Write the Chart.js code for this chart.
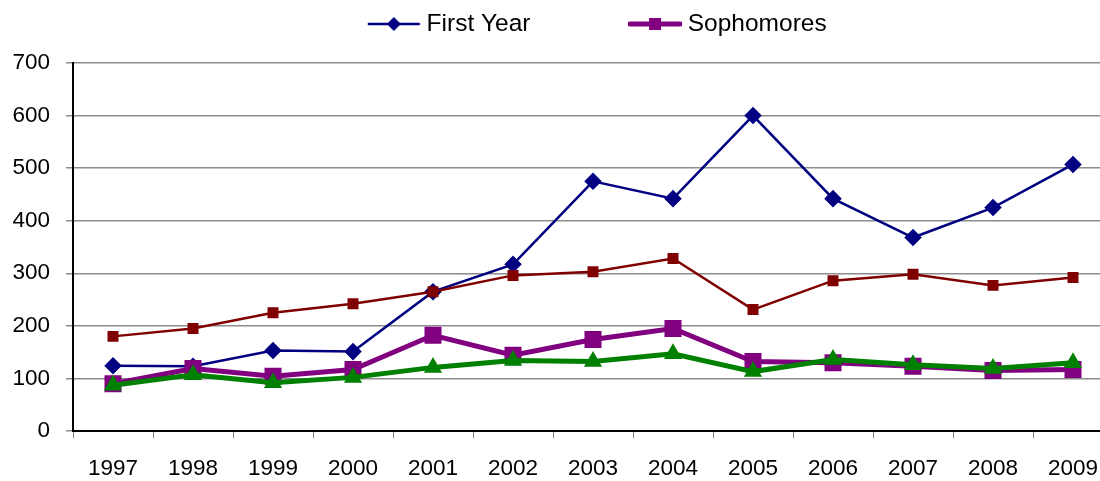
<!DOCTYPE html>
<html>
<head>
<meta charset="utf-8">
<script src="https://cdn.jsdelivr.net/npm/chart.js@4"></script>
<style>
  html, body { margin: 0; padding: 0; background: #fff; overflow: hidden; }
  #wrap { width: 1113px; height: 481px; position: relative; }
</style>
</head>
<body>
<div id="wrap"><canvas id="c" width="1113" height="481"></canvas></div>
<script>
const years = ['1997','1998','1999','2000','2001','2002','2003','2004','2005','2006','2007','2008','2009'];
const firstYear  = [124, 123, 153, 151, 265, 317, 475, 442, 600, 442, 368, 425, 507];
const sophomores = [90, 119, 104, 117, 182, 144, 174, 195, 132, 130, 123, 115, 117];
const seriesRed  = [180, 195, 225, 242, 265, 296, 303, 328, 231, 286, 298, 277, 292];
const seriesGreen= [87, 107, 92, 102, 121, 134, 132, 147, 113, 136, 126, 119, 130];
const yTicks = [0, 100, 200, 300, 400, 500, 600, 700];

const FONT = '"Liberation Sans", Arial, sans-serif';

function legendIcon(color, lw, style, r) {
  const c = document.createElement('canvas');
  c.width = 54; c.height = 20;
  const g = c.getContext('2d');
  g.strokeStyle = color; g.lineWidth = lw; g.lineCap = 'round';
  g.beginPath(); g.moveTo(2, 10); g.lineTo(52, 10); g.stroke();
  g.fillStyle = color;
  g.beginPath();
  if (style === 'diamond') {
    g.moveTo(27 - r, 10); g.lineTo(27, 10 - r); g.lineTo(27 + r, 10); g.lineTo(27, 10 + r); g.closePath();
  } else {
    g.rect(27 - r, 10 - r, 2 * r, 2 * r);
  }
  g.fill();
  return c;
}
const iconFirst = legendIcon('#000080', 2.5, 'diamond', 7);
const iconSoph = legendIcon('#800080', 5, 'square', 6);

const LEG_PAD = 104;
const LEG_FONT = 24.5;
const LEG_CENTER_Y = 24;
const LEG_SHIFT_X = 7;

const moveLegend = {
  id: 'moveLegend',
  afterLayout(chart) {
    const lg = chart.legend;
    if (!lg) return;
    lg.top = LEG_CENTER_Y - LEG_FONT / 2 - LEG_PAD;
    lg.bottom = chart.chartArea.top - 4;
    lg.left += LEG_SHIFT_X;
    lg.right += LEG_SHIFT_X;
  }
};

new Chart(document.getElementById('c'), {
  type: 'line',
  data: {
    labels: years,
    datasets: [
      { label: 'First Year', data: firstYear, borderColor: '#000080', backgroundColor: '#000080',
        borderWidth: 2.5, pointStyle: 'rectRot', pointRadius: 7, pointHoverRadius: 7, order: 4 },
      { label: 'Sophomores', data: sophomores, borderColor: '#800080', backgroundColor: '#800080',
        borderWidth: 5, pointStyle: 'rect', pointRadius: 8.5, pointHoverRadius: 8.5, order: 2 },
      { label: 'Juniors', data: seriesRed, borderColor: '#800000', backgroundColor: '#800000',
        borderWidth: 2.5, pointStyle: 'rect', pointRadius: 6, pointHoverRadius: 6, order: 3 },
      { label: 'Seniors', data: seriesGreen, borderColor: '#008000', backgroundColor: '#008000',
        borderWidth: 5, pointStyle: 'triangle', pointRadius: 5.5, pointHoverRadius: 5.5, order: 1 }
    ]
  },
  plugins: [moveLegend],
  options: {
    responsive: false,
    animation: false,
    devicePixelRatio: 1,
    layout: { autoPadding: false, padding: { top: 0, left: 0, right: 0, bottom: 0 } },
    elements: { line: { tension: 0 } },
    plugins: {
      tooltip: { enabled: false },
      legend: {
        display: true,
        position: 'top',
        fullSize: false,
        maxHeight: 63,
        labels: {
          usePointStyle: true,
          pointStyleWidth: 41,
          padding: LEG_PAD,
          color: '#000',
          font: { family: FONT, size: LEG_FONT },
          filter: (item) => item.datasetIndex < 2,
          generateLabels: (chart) => {
            const ds = chart.data.datasets;
            return [
              { text: ds[0].label, pointStyle: iconFirst, fillStyle: '#000080', strokeStyle: '#000080', lineWidth: 0, datasetIndex: 0, fontColor: '#000' },
              { text: ds[1].label, pointStyle: iconSoph, fillStyle: '#800080', strokeStyle: '#800080', lineWidth: 0, datasetIndex: 1, fontColor: '#000' },
              { text: ds[2].label, datasetIndex: 2 },
              { text: ds[3].label, datasetIndex: 3 }
            ];
          }
        }
      }
    },
    scales: {
      x: {
        offset: true,
        grid: { display: true, drawOnChartArea: false, offset: true, tickLength: 7, color: '#808080', lineWidth: 1 },
        border: { display: true, color: '#000', width: 2 },
        ticks: { color: '#000', padding: 17, maxRotation: 0, autoSkip: false,
          font: { family: FONT, size: 22.5 } },
        afterFit: (s) => { s.height = 50; s.paddingLeft = 0; s.paddingRight = 0; }
      },
      y: {
        min: 0, max: 700,
        afterBuildTicks: (s) => { s.ticks = yTicks.map(v => ({ value: v })); },
        grid: { color: '#8c8c8c', lineWidth: 1.5, tickLength: 7, drawTicks: true },
        border: { display: true, color: '#000', width: 2 },
        ticks: { color: '#000', padding: 16,
          font: { family: FONT, size: 22.5 } },
        afterFit: (s) => { s.width = 73; s.paddingBottom = 0; }
      }
    }
  }
});
</script>
</body>
</html>
